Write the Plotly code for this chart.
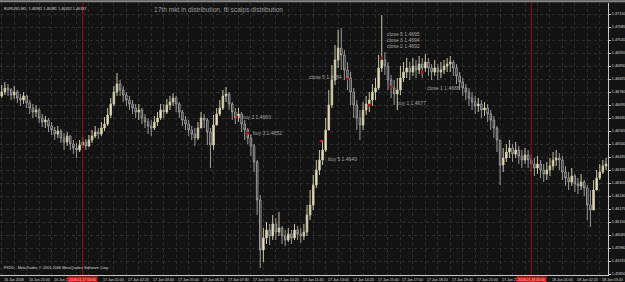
import plotly.graph_objects as go

# ---------------- data (EURUSD, bars from 16 Jan 19:40) ----------------
bar_index = list(range(195))
first_open = 1.4674

close = [
1.4676,1.4678,1.4677,1.46745,1.4676,1.4673,1.4672,1.4674,1.46705,1.4668,
1.4666,1.4667,1.4663,1.4661,1.4662,1.4659,1.4657,1.4655,1.46565,1.4653,
1.4651,1.4654,1.4650,1.4648,1.4647,1.46495,1.4651,1.4649,1.4652,1.4654,
1.4656,1.4655,1.4658,1.4660,1.46645,1.4670,1.4676,1.4680,1.4677,1.46745,
1.4672,1.4670,1.4668,1.4666,1.4667,1.4663,1.4661,1.4659,1.4658,1.4661,
1.4663,1.4667,1.4666,1.46695,1.4671,1.4673,1.4670,1.4666,1.4662,1.4660,
1.4657,1.4655,1.4653,1.4658,1.4663,1.4662,1.4656,1.46495,1.46595,1.4665,
1.4668,1.4674,1.4675,1.4670,1.4666,1.4663,1.4665,1.4660,1.4657,1.4653,
1.4649,1.4641,1.4622,1.4597,1.4603,1.4607,1.4604,1.4610,1.4606,1.4608,
1.4604,1.4602,1.4605,1.4603,1.4607,1.4605,1.4604,1.4606,1.46145,1.46195,
1.46295,1.4637,1.4642,1.4647,1.4657,1.46695,1.4682,1.4692,1.4698,1.46945,
1.4687,1.4683,1.4676,1.46695,1.4663,1.46595,1.4667,1.4670,1.4672,1.4676,
1.4678,1.4688,1.4692,1.4689,1.4682,1.4678,1.4675,1.4677,1.4683,1.4686,
1.4688,1.4686,1.4689,1.4687,1.4690,1.4688,1.4691,1.4688,1.4686,1.4688,
1.4686,1.4687,1.4689,1.4690,1.4691,1.4688,1.4684,1.4681,1.4678,1.4676,
1.4673,1.4671,1.4669,1.4670,1.4667,1.4668,1.4665,1.4662,1.4658,1.4652,
1.46395,1.4643,1.4646,1.4648,1.4645,1.4647,1.4644,1.4642,1.46445,1.4642,
1.4640,1.4638,1.4640,1.4637,1.4635,1.4637,1.4639,1.4642,1.4643,1.4642,
1.4636,1.4633,1.4631,1.4634,1.4630,1.4629,1.4631,1.4628,1.46195,1.4617,
1.4627,1.4633,1.4636,1.4639,1.4640]

high = [
1.46795,1.4681,1.4680,1.4678,1.4679,1.4677,1.4675,1.4676,1.46745,1.4672,
1.4670,1.46695,1.4668,1.4665,1.4664,1.4663,1.4661,1.46585,1.4659,1.46575,
1.46555,1.4656,1.46545,1.4652,1.46505,1.4652,1.46535,1.46525,1.46545,1.4657,
1.4659,1.4658,1.4661,1.46635,1.4668,1.4673,1.4679,1.46855,1.4682,1.4679,
1.4676,1.4674,1.4672,1.4670,1.4670,1.4668,1.4665,1.4663,1.4662,1.4664,
1.4666,1.4670,1.4670,1.46725,1.4674,1.46755,1.4674,1.4671,1.4667,1.4664,
1.4662,1.4659,1.4658,1.4661,1.4666,1.4665,1.4663,1.4658,1.46645,1.4668,
1.4672,1.4677,1.46785,1.4676,1.4671,1.4668,1.4668,1.4666,1.4662,1.4658,
1.4655,1.4650,1.4642,1.46245,1.4608,1.4611,1.4610,1.46145,1.4613,1.4616,
1.4609,1.4607,1.4608,1.4607,1.4610,1.4609,1.4608,1.4610,1.46195,1.4627,
1.46345,1.4642,1.4647,1.4652,1.4663,1.4677,1.46895,1.46995,1.4707,1.4708,
1.4697,1.4691,1.4686,1.4678,1.4672,1.4667,1.4671,1.4674,1.4676,1.4680,
1.4683,1.46945,1.47145,1.4696,1.4691,1.46845,1.4682,1.4683,1.4689,1.4691,
1.4693,1.4691,1.4693,1.4692,1.4694,1.4693,1.4695,1.4693,1.4690,1.4692,
1.4690,1.4691,1.4692,1.4693,1.4694,1.4692,1.4690,1.4686,1.4683,1.4680,
1.4678,1.4676,1.4674,1.4673,1.4672,1.4671,1.4670,1.4667,1.4664,1.4659,
1.4651,1.4648,1.4650,1.4652,1.4650,1.4651,1.4649,1.4647,1.4648,1.4647,
1.4645,1.4643,1.4644,1.4642,1.4640,1.4641,1.4643,1.4646,1.4647,1.46455,
1.4644,1.4639,1.4636,1.4638,1.4635,1.4633,1.4635,1.4632,1.46295,1.4627,
1.4632,1.4637,1.4640,1.4642,1.4643]

low = [
1.4673,1.46745,1.4674,1.4672,1.46725,1.46705,1.4669,1.4670,1.4668,1.4665,
1.4663,1.46635,1.46605,1.46585,1.4658,1.4656,1.46545,1.4652,1.4653,1.46505,
1.4647,1.4649,1.4647,1.4645,1.4643,1.4646,1.4648,1.4647,1.46485,1.46505,
1.4653,1.46525,1.4654,1.46565,1.4659,1.4663,1.4669,1.4674,1.4674,1.4671,
1.4669,1.4667,1.4665,1.4663,1.4662,1.4660,1.4658,1.4655,1.4654,1.4657,
1.4659,1.4662,1.4663,1.4665,1.4667,1.4669,1.4666,1.4663,1.4659,1.4657,
1.4654,1.4652,1.4649,1.4652,1.4659,1.4658,1.46495,1.4638,1.4647,1.4660,
1.4664,1.4667,1.4671,1.4667,1.4662,1.4660,1.4661,1.4656,1.4652,1.4650,
1.4644,1.4636,1.46145,1.4588,1.4591,1.4600,1.45995,1.4602,1.4602,1.4604,
1.4600,1.4599,1.4601,1.4600,1.4602,1.4602,1.46005,1.4602,1.4604,1.4612,
1.4617,1.4628,1.46345,1.46395,1.4646,1.4657,1.4668,1.46795,1.4688,1.4687,
1.4682,1.4677,1.46695,1.4663,1.4657,1.4652,1.4657,1.46645,1.4666,1.4669,
1.4672,1.4677,1.4686,1.46845,1.4677,1.4673,1.46695,1.4667,1.46745,1.4681,
1.4683,1.4682,1.4684,1.4683,1.4685,1.4683,1.4686,1.4684,1.4682,1.4684,
1.4682,1.4683,1.4685,1.4686,1.4686,1.4684,1.4680,1.4677,1.4674,1.4672,
1.4669,1.4667,1.4665,1.4666,1.4663,1.4664,1.4661,1.4657,1.4653,1.4646,
1.46295,1.4636,1.4641,1.4643,1.4641,1.4643,1.4640,1.4638,1.4640,1.4638,
1.4636,1.4634,1.4635,1.4633,1.4631,1.4632,1.4634,1.4637,1.4639,1.4637,
1.4632,1.4629,1.4627,1.4629,1.4626,1.4625,1.4627,1.4624,1.4612,1.46085,
1.46195,1.4628,1.4632,1.4635,1.4637]

# time axis labels (bar index -> label); labels hidden under the red boxes omitted
time_tick_bars = [0, 8, 16, 32, 40, 48, 56, 64, 72, 80, 88, 96, 104, 112,
                  120, 128, 136, 144, 152, 160, 176, 184, 192]
time_tick_text = ["16 Jan 2008", "16 Jan 21:00", "16 Jan 22:20",
                  "17 Jan 01:00", "17 Jan 02:20", "17 Jan 03:40", "17 Jan 05:00",
                  "17 Jan 06:20", "17 Jan 07:40", "17 Jan 09:00", "17 Jan 10:20",
                  "17 Jan 11:40", "17 Jan 13:00", "17 Jan 14:20", "17 Jan 15:40",
                  "17 Jan 17:00", "17 Jan 18:20", "17 Jan 19:40", "17 Jan 21:00",
                  "17 Jan 22:20", "18 Jan 01:00", "18 Jan 02:20",
                  "18 Jan 03:40"]

# vertical day-separator lines
day_line_bars = [26, 170]
day_line_text = ["2008.01.17 00:00", "2008.01.18 00:00"]

# price scale
price_ticks = [1.45850, 1.45915, 1.45980, 1.46045, 1.46110, 1.46175, 1.46240,
               1.46305, 1.46370, 1.46435, 1.46500, 1.46565, 1.46630, 1.46695,
               1.46760, 1.46825, 1.46890, 1.46955, 1.47020, 1.47085, 1.47150]
price_min, price_max = 1.45845, 1.47205

# trade arrows
trade_bar = [75.5, 79, 102.5, 111, 122, 118, 125, 135]
trade_price = [1.46635, 1.46555, 1.46515, 1.46825, 1.4693, 1.46695, 1.46785, 1.4686]

# trade text objects: text, bar position, price, anchor
note_text = ["buy 2 1.4660", "buy 3 1.4652", "buy 5 1.4640", "close 5 1.4684",
             "close 5 1.4695", "close 3 1.4694", "close 2 1.4692",
             "buy 1 1.4677", "close 1 1.4688"]
note_bar = [76.4, 79.9, 104.0, 109.8, 122.9, 122.9, 122.9, 126.4, 136.0]
note_price = [1.46635, 1.46555, 1.46425, 1.46835, 1.4705, 1.4702, 1.4699, 1.46705, 1.4678]
note_anchor = ["left", "left", "left", "right", "left", "left", "left", "left", "left"]

# ---------------- figure ----------------
opens = [first_open] + close[:-1]
hi = [max(h, o, c) for h, o, c in zip(high, opens, close)]
lo = [min(l, o, c) for l, o, c in zip(low, opens, close)]

BG = "#131313"
FONT = "Liberation Sans, Arial, sans-serif"

fig = go.Figure()

fig.add_trace(go.Candlestick(
    x=bar_index, open=opens, high=hi, low=lo, close=close,
    increasing=dict(line=dict(color="#cdc6a4", width=1), fillcolor="#f3edcc"),
    decreasing=dict(line=dict(color="#9c9c9c", width=1), fillcolor=BG),
    whiskerwidth=0, hoverinfo="skip", showlegend=False))

# day separator lines, one trace each, drawn over the candles
for b in day_line_bars:
    fig.add_trace(go.Scatter(x=[b, b], y=[price_min, price_max], mode="lines",
                             line=dict(color="#a00c0c", width=1),
                             hoverinfo="skip", showlegend=False))

fig.add_trace(go.Scatter(
    x=trade_bar, y=trade_price, mode="markers",
    marker=dict(color="#b01818", size=3.2, line=dict(width=0)),
    hoverinfo="skip", showlegend=False))

for t, b, p, a in zip(note_text, note_bar, note_price, note_anchor):
    fig.add_annotation(x=b, y=p, xref="x", yref="y", text=t, showarrow=False,
                       xanchor=a, yanchor="middle",
                       font=dict(family=FONT, size=5, color="#a4a4a4"))

for b, t in zip(time_tick_bars, time_tick_text):
    fig.add_annotation(x=b, y=0, xref="x", yref="paper", text=t, showarrow=False,
                       xanchor="left", yanchor="top", yshift=-1,
                       font=dict(family=FONT, size=3.6, color="#d8d8d8"))

for b, t in zip(day_line_bars, day_line_text):
    fig.add_annotation(x=b, y=0, xref="x", yref="paper", text=t, showarrow=False,
                       xanchor="center", yanchor="top", yshift=-0.5,
                       bgcolor="#d01818", borderpad=0.8,
                       font=dict(family=FONT, size=3.5, color="#ffc0c0"))

fig.add_annotation(x=0.003, y=0.992, xref="paper", yref="paper",
                   text="EURUSD,M5  1.46381 1.46381 1.46332 1.46337",
                   showarrow=False, xanchor="left", yanchor="top",
                   font=dict(family=FONT, size=3.8, color="#d8d8d8"))
fig.add_annotation(x=0.36, y=0.995, xref="paper", yref="paper",
                   text="17th mkt in distribution, fti scalps distribution",
                   showarrow=False, xanchor="center", yanchor="top",
                   font=dict(family=FONT, size=6.6, color="#9a9a9a"))
fig.add_annotation(x=0.003, y=0.01, xref="paper", yref="paper",
                   text="FXDD - MetaTrader, © 2001-2006 MetaQuotes Software Corp.",
                   showarrow=False, xanchor="left", yanchor="bottom",
                   font=dict(family=FONT, size=3.8, color="#d8d8d8"))

# window border line (top)
fig.add_shape(type="line", xref="paper", yref="paper", x0=0, x1=1.03,
              y0=1.006, y1=1.006, line=dict(color="#8a8a8a", width=2))

fig.update_layout(
    width=625, height=282,
    margin=dict(l=0, r=15, t=3, b=7),
    paper_bgcolor=BG, plot_bgcolor=BG,
    showlegend=False,
    xaxis=dict(range=[-0.56, 194.64], rangeslider=dict(visible=False),
               tickvals=list(range(0, 195, 4)), showticklabels=False,
               showgrid=True, gridcolor="#2e2e2e", griddash="dot", gridwidth=1,
               zeroline=False, showline=True, linecolor="#c8c8c8", linewidth=1,
               ticks=""),
    yaxis=dict(range=[price_min, price_max], side="right",
               tickvals=price_ticks, ticktext=["%.5f" % v for v in price_ticks],
               tickfont=dict(family=FONT, size=3.8, color="#d8d8d8"),
               ticks="outside", ticklen=2, tickcolor="#c8c8c8",
               showgrid=True, gridcolor="#2e2e2e", griddash="dot", gridwidth=1,
               zeroline=False, showline=True, linecolor="#c8c8c8", linewidth=1),
)

fig.write_html("out.html")
